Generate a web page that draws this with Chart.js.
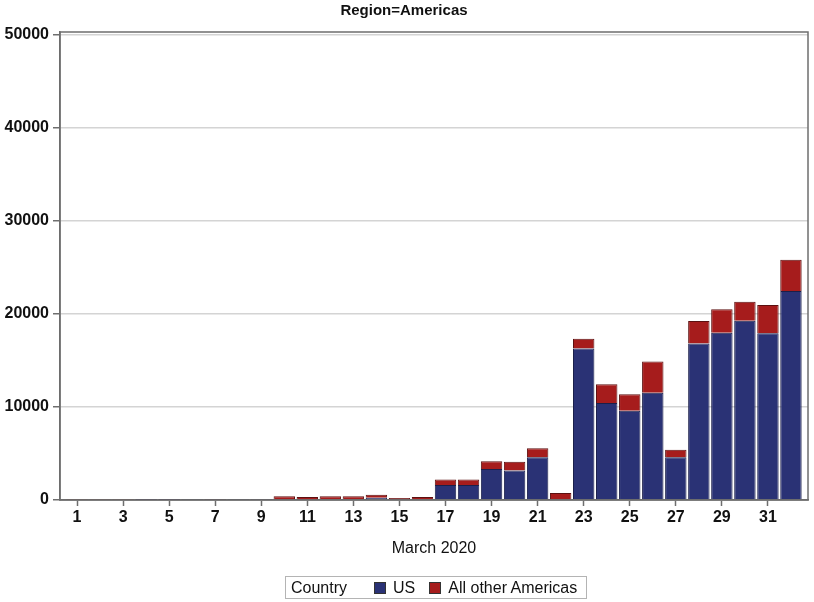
<!DOCTYPE html>
<html>
<head>
<meta charset="utf-8">
<script src="https://cdn.jsdelivr.net/npm/chart.js@4/dist/chart.umd.min.js"></script>
<style>
    html, body { margin: 0; padding: 0; background: #fff; }
    #wrap { position: relative; width: 814px; height: 602px; }
    #legend {
        position: absolute; left: 285px; top: 576px; width: 302px; height: 23px;
        border: 1px solid #b4b4b4; box-sizing: border-box;
        font: 16px "Liberation Sans", Arial, sans-serif; color: #111;
        display: flex; align-items: center; padding-left: 5px; white-space: nowrap;
    }
    #legend .sw { display: inline-block; width: 12px; height: 12px; border: 1px solid #333; box-sizing: border-box; margin-right: 7px; }
</style>
</head>
<body>
<div id="wrap">
    <canvas id="chart" width="814" height="602"></canvas>
    <div id="legend">
        <span style="margin-right:27px">Country</span>
        <span class="sw" style="background:#2a3275"></span><span style="margin-right:14px">US</span>
        <span class="sw" style="background:#a61c1c"></span><span>All other Americas</span>
    </div>
</div>
<script>
// Ngày trong tháng 3/2020
const days = [1, 2, 3, 4, 5, 6, 7, 8, 9, 10, 11, 12, 13, 14, 15, 16,
    17, 18, 19, 20, 21, 22, 23, 24, 25, 26, 27, 28, 29, 30, 31, 32];
const usValues = [0, 0, 0, 10, 10, 20, 30, 20, 30, 60, 50, 80, 90, 250, 60, 80,
    1620, 1620, 3340, 3160, 4600, 0, 16290, 10420, 9600, 11540, 4600, 16830, 17970, 19270, 17910, 22470];
const otherValues = [20, 25, 30, 50, 40, 40, 50, 40, 30, 330, 270, 310, 300, 320, 155, 240,
    570, 570, 820, 940, 970, 755, 1040, 2020, 1760, 3350, 790, 2400, 2530, 2050, 3050, 3340];
const xTickValues = [1, 3, 5, 7, 9, 11, 13, 15, 17, 19, 21, 23, 25, 27, 29, 31];
const yTickValues = [0, 10000, 20000, 30000, 40000, 50000];

const FONT = '"Liberation Sans", Arial, sans-serif';

// Khung viền quanh vùng vẽ
const framePlugin = {
    id: 'frame',
    afterDraw(chart) {
        const { ctx, chartArea: a } = chart;
        ctx.save();
        ctx.strokeStyle = '#6e6e6e';
        ctx.lineWidth = 1.5;
        ctx.strokeRect(a.left, a.top, a.right - a.left, a.bottom - a.top);
        ctx.restore();
    }
};

new Chart(document.getElementById('chart').getContext('2d'), {
    type: 'bar',
    data: {
        datasets: [{
            label: 'US',
            data: days.map((d, i) => ({ x: d, y: usValues[i] })),
            backgroundColor: '#2a3275',
            borderColor: '#1b1f4a',
            borderWidth: 1
        }, {
            label: 'All other Americas',
            data: days.map((d, i) => ({ x: d, y: otherValues[i] })),
            backgroundColor: '#a61c1c',
            borderColor: '#5c1010',
            borderWidth: 1
        }]
    },
    options: {
        responsive: false,
        animation: false,
        barPercentage: 0.93,
        categoryPercentage: 1,
        layout: { padding: { left: 0, right: 6, top: 0, bottom: 30 } },
        plugins: {
            legend: { display: false },
            tooltip: { enabled: false },
            title: {
                display: true,
                text: 'Region=Americas',
                color: '#111',
                font: { family: FONT, size: 15, weight: 'bold' },
                padding: { top: 2, bottom: 12 }
            }
        },
        scales: {
            x: {
                type: 'linear',
                stacked: true,
                offset: false,
                min: 0.26,
                max: 32.74,
                afterBuildTicks: (scale) => { scale.ticks = xTickValues.map(v => ({ value: v })); },
                afterFit: (scale) => { scale.height = 72; },
                ticks: {
                    color: '#111',
                    font: { family: FONT, size: 16, weight: 'bold' },
                    padding: 2,
                    maxRotation: 0,
                    callback: (v) => String(v)
                },
                grid: { offset: false, drawOnChartArea: false, tickLength: 6, tickColor: '#6e6e6e', tickWidth: 1.5 },
                border: { color: '#6e6e6e', width: 1.5 },
                title: {
                    display: true,
                    text: 'March 2020',
                    color: '#111',
                    font: { family: FONT, size: 16 },
                    padding: { top: 6, bottom: 14 }
                }
            },
            y: {
                stacked: true,
                min: 0,
                max: 50300,
                afterBuildTicks: (scale) => { scale.ticks = yTickValues.map(v => ({ value: v })); },
                afterFit: (scale) => { scale.width = 60; },
                ticks: {
                    color: '#111',
                    font: { family: FONT, size: 16, weight: 'bold' },
                    padding: 4,
                    callback: (v) => String(v)
                },
                grid: { color: '#d4d4d4', lineWidth: 1.5, tickLength: 7, tickColor: '#6e6e6e', tickWidth: 1.5 },
                border: { color: '#6e6e6e', width: 1.5 }
            }
        }
    },
    plugins: [framePlugin]
});
</script>
</body>
</html>
